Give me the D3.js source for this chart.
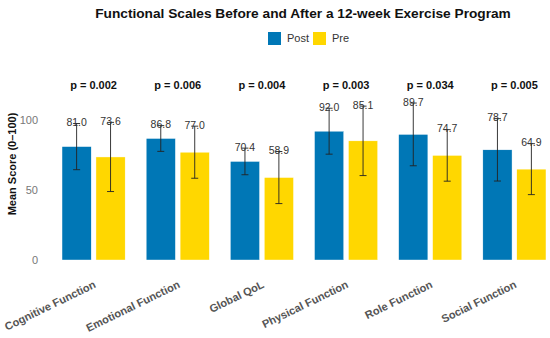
<!DOCTYPE html>
<html>
<head>
<meta charset="utf-8">
<script src="https://cdn.jsdelivr.net/npm/d3@7"></script>
<style>
  body { margin: 0; background: #fff; }
  text { font-family: "Liberation Sans", Arial, sans-serif; }
</style>
</head>
<body>
<script>
var categories = ["Cognitive Function", "Emotional Function", "Global QoL", "Physical Function", "Role Function", "Social Function"];
var groups = ["Post", "Pre"];
var postMean = [81.0, 86.8, 70.4, 92.0, 89.7, 78.7];
var preMean = [73.6, 77.0, 58.9, 85.1, 74.7, 64.9];
var postSd = [16.5, 9.2, 9.5, 16.4, 22.4, 22.3];
var preSd = [24.7, 18.6, 18.6, 24.8, 18.4, 18.2];
var pValues = ["p = 0.002", "p = 0.006", "p = 0.004", "p = 0.003", "p = 0.034", "p = 0.005"];
var yTicks = [0, 50, 100];
var colors = {Post: "#0077B6", Pre: "#FFD700"};

var width = 550, height = 338;

var svg = d3.select("body").append("svg")
    .attr("width", width)
    .attr("height", height);

// build rows from the arrays
var rows = categories.map(function(c, i) {
  return {
    cat: c,
    p: pValues[i],
    bars: [
      {group: "Post", mean: postMean[i], sd: postSd[i]},
      {group: "Pre", mean: preMean[i], sd: preSd[i]}
    ]
  };
});

var x = d3.scaleBand()
    .domain(categories)
    .range([51.5, 556.5])
    .padding(0);

var groupW = x.bandwidth() * 0.75;
var x1 = d3.scaleBand()
    .domain(groups)
    .range([0, groupW])
    .paddingInner(0.14);

var y = d3.scaleLinear()
    .domain([0, 100])
    .range([260, 120]);

// y ticks
svg.append("g").selectAll("text")
    .data(yTicks)
    .enter().append("text")
    .attr("x", 38)
    .attr("y", function(d) { return y(d); })
    .attr("dy", "0.35em")
    .attr("text-anchor", "end")
    .style("font-size", "11px")
    .style("fill", "#777")
    .text(function(d) { return d; });

// y label
svg.append("text")
    .attr("transform", "translate(16,164) rotate(-90)")
    .attr("text-anchor", "middle")
    .style("font-size", "11px")
    .style("font-weight", "bold")
    .style("fill", "#111")
    .text("Mean Score (0\u2013100)");

var g = svg.append("g").selectAll("g")
    .data(rows)
    .enter().append("g")
    .attr("transform", function(d) {
      return "translate(" + (x(d.cat) + (x.bandwidth() - groupW) / 2) + ",0)";
    });

// bars
g.selectAll("rect")
    .data(function(d) { return d.bars; })
    .enter().append("rect")
    .attr("x", function(d) { return x1(d.group); })
    .attr("width", x1.bandwidth())
    .attr("y", function(d) { return y(d.mean); })
    .attr("height", function(d) { return y(0) - y(d.mean); })
    .style("fill", function(d) { return colors[d.group]; })
    .style("stroke", "#fff")
    .style("stroke-width", 0.4);

// error bars
var eb = g.selectAll(".eb")
    .data(function(d) { return d.bars; })
    .enter().append("g")
    .attr("class", "eb")
    .attr("transform", function(d) {
      return "translate(" + (x1(d.group) + x1.bandwidth() / 2) + ",0)";
    })
    .style("stroke", "#222")
    .style("stroke-width", 0.9);

eb.append("line")
    .attr("y1", function(d) { return y(d.mean + d.sd); })
    .attr("y2", function(d) { return y(d.mean - d.sd); });
eb.append("line")
    .attr("x1", -3.5).attr("x2", 3.5)
    .attr("y1", function(d) { return y(d.mean + d.sd); })
    .attr("y2", function(d) { return y(d.mean + d.sd); });
eb.append("line")
    .attr("x1", -3.5).attr("x2", 3.5)
    .attr("y1", function(d) { return y(d.mean - d.sd); })
    .attr("y2", function(d) { return y(d.mean - d.sd); });

// value labels
g.selectAll(".val")
    .data(function(d) { return d.bars; })
    .enter().append("text")
    .attr("class", "val")
    .attr("x", function(d) { return x1(d.group) + x1.bandwidth() / 2; })
    .attr("y", function(d) { return y(d.mean + d.sd) + 2.5; })
    .attr("text-anchor", "middle")
    .style("font-size", "10.5px")
    .style("fill", "#333")
    .text(function(d) { return d.mean.toFixed(1); });

// p values
g.append("text")
    .attr("x", groupW / 2)
    .attr("y", 89)
    .attr("text-anchor", "middle")
    .style("font-size", "11px")
    .style("font-weight", "bold")
    .style("fill", "#111")
    .text(function(d) { return d.p; });

// x labels
svg.append("g").selectAll("text")
    .data(categories)
    .enter().append("text")
    .attr("transform", function(d) {
      return "translate(" + (x(d) + x.bandwidth() / 2 + 3) + ",287) rotate(-26)";
    })
    .attr("text-anchor", "end")
    .style("font-size", "11px")
    .style("font-weight", "bold")
    .style("fill", "#555")
    .text(function(d) { return d; });

// title
svg.append("text")
    .attr("x", 303)
    .attr("y", 17.5)
    .attr("text-anchor", "middle")
    .style("font-size", "13.7px")
    .style("font-weight", "bold")
    .style("fill", "#111")
    .text("Functional Scales Before and After a 12-week Exercise Program");

// legend
var leg = svg.append("g").selectAll("g")
    .data([{k: "Post", x: 268}, {k: "Pre", x: 313}])
    .enter().append("g")
    .attr("transform", function(d) { return "translate(" + d.x + ",32)"; });
leg.append("rect")
    .attr("width", 13).attr("height", 13)
    .style("fill", function(d) { return colors[d.k]; });
leg.append("text")
    .attr("x", 19)
    .attr("y", 6.5)
    .attr("dy", "0.35em")
    .style("font-size", "11px")
    .style("fill", "#333")
    .text(function(d) { return d.k; });
</script>
</body>
</html>
